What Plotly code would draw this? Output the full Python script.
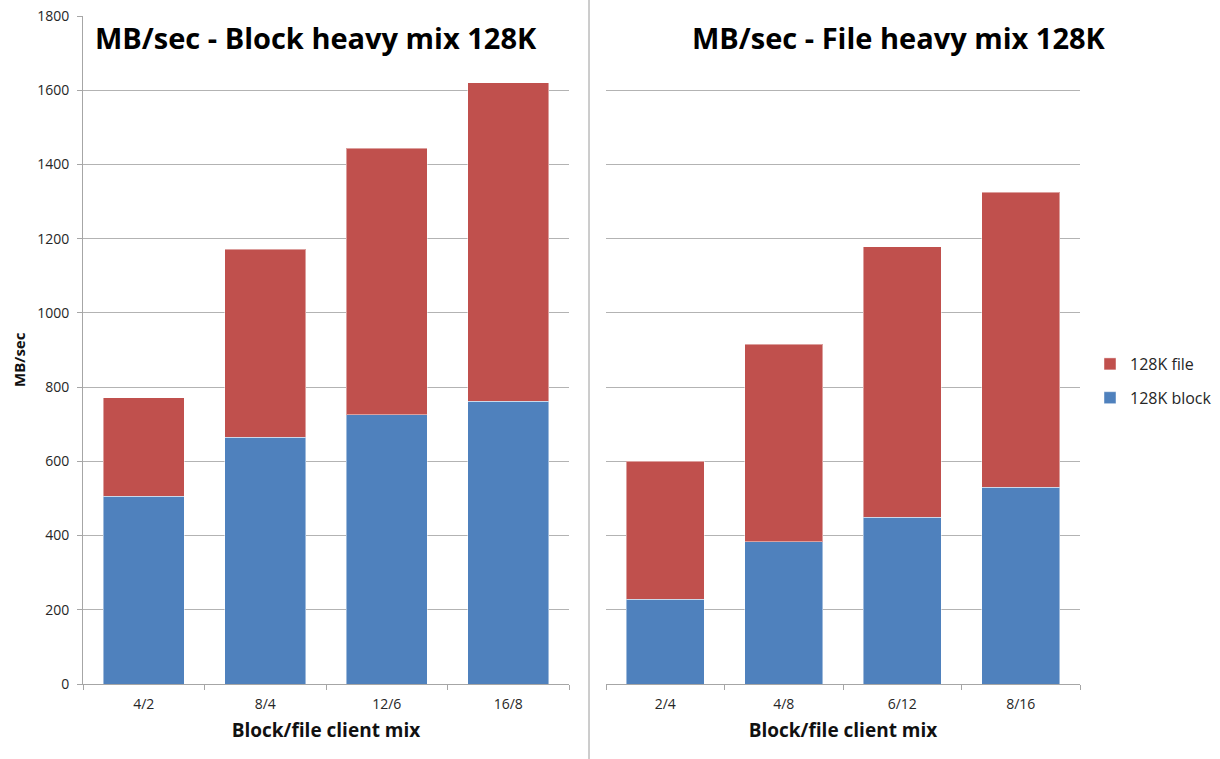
import plotly.graph_objects as go

left_categories = ["4/2", "8/4", "12/6", "16/8"]
left_block = [506, 665, 725, 762]
left_file = [266, 507, 718, 858]

right_categories = ["2/4", "4/8", "6/12", "8/16"]
right_block = [228, 383, 450, 530]
right_file = [372, 532, 728, 795]

y_ticks = [0, 200, 400, 600, 800, 1000, 1200, 1400, 1600, 1800]

BLUE = "#4F81BD"
RED = "#C0504D"
GRID = "#b3b3b3"
TXT = "#262626"
W, H = 1220, 759

fig = go.Figure()
edge = dict(color="rgba(255,255,255,0.45)", width=1)

fig.add_trace(go.Bar(x=left_categories, y=left_block, name="128K block", marker=dict(color=BLUE, line=edge),
                     xaxis="x", yaxis="y", legendgroup="b", legendrank=2, width=0.667))
fig.add_trace(go.Bar(x=left_categories, y=left_file, name="128K file", marker=dict(color=RED, line=edge),
                     xaxis="x", yaxis="y", legendgroup="f", legendrank=1, width=0.667))
fig.add_trace(go.Bar(x=right_categories, y=right_block, name="128K block", marker=dict(color=BLUE, line=edge),
                     xaxis="x2", yaxis="y2", legendgroup="b", legendrank=2, showlegend=False, width=0.66))
fig.add_trace(go.Bar(x=right_categories, y=right_file, name="128K file", marker=dict(color=RED, line=edge),
                     xaxis="x2", yaxis="y2", legendgroup="f", legendrank=1, showlegend=False, width=0.66))

y0 = (H - 684) / H
y1 = (H - 16) / H

tickfont = dict(family="Open Sans, Lato, sans-serif", size=14, color=TXT)
titlefont = dict(family="Open Sans, Lato, sans-serif", size=19, color="#111111")

xcommon = dict(type="category", showline=True, linecolor="#a6a6a6", linewidth=1,
               ticks="outside", tickson="boundaries", ticklen=5, tickcolor="#a6a6a6",
               ticklabelstandoff=7,
               showgrid=False, tickfont=tickfont, fixedrange=True, automargin=False)
ycommon = dict(range=[0, 1800], tickvals=y_ticks, showgrid=True, gridcolor=GRID, gridwidth=1,
               zeroline=False, fixedrange=True, automargin=False)

fig.update_layout(
    width=W, height=H,
    margin=dict(l=0, r=0, t=0, b=0, autoexpand=False),
    paper_bgcolor="white", plot_bgcolor="white",
    barmode="stack",
    xaxis=dict(domain=[83 / W, 569 / W], anchor="y",
               title=dict(text="<b>Block/file client mix</b>", font=titlefont, standoff=11), **xcommon),
    xaxis2=dict(domain=[606 / W, 1080 / W], anchor="y2",
                title=dict(text="<b>Block/file client mix</b>", font=titlefont, standoff=11), **xcommon),
    yaxis=dict(domain=[y0, y1], anchor="x", showline=True, linecolor="#a6a6a6", linewidth=1,
               ticks="outside", ticklen=5, tickcolor="#a6a6a6", tickfont=tickfont,
               ticklabelstandoff=5, **ycommon),
    yaxis2=dict(domain=[y0, y1], anchor="x2", showline=False, showticklabels=False, ticks="", **ycommon),
    legend=dict(x=1090 / W, y=1 - 347 / H, xanchor="left", yanchor="top",
                traceorder="grouped", tracegroupgap=10, itemwidth=30,
                font=dict(family="Open Sans, Lato, sans-serif", size=16, color=TXT),
                bgcolor="rgba(0,0,0,0)"),
    showlegend=True,
    annotations=[
        dict(text="<b>MB/sec - Block heavy mix 128K</b>", x=316 / W, y=1 - 37 / H, xref="paper", yref="paper",
             showarrow=False, xanchor="center", yanchor="middle",
             font=dict(family="Open Sans, Lato, sans-serif", size=29, color="#000000")),
        dict(text="<b>MB/sec - File heavy mix 128K</b>", x=899 / W, y=1 - 37 / H, xref="paper", yref="paper",
             showarrow=False, xanchor="center", yanchor="middle",
             font=dict(family="Open Sans, Lato, sans-serif", size=29, color="#000000")),
        dict(text="<b>MB/sec</b>", x=19 / W, y=1 - 360 / H, xref="paper", yref="paper", textangle=-90,
             showarrow=False, xanchor="center", yanchor="middle",
             font=dict(family="Open Sans, Lato, sans-serif", size=15, color="#111111")),
    ],
    shapes=[
        dict(type="line", xref="paper", yref="paper", x0=589 / W, x1=589 / W, y0=0, y1=1,
             line=dict(color="#9a9a9a", width=1)),
    ],
)

fig.write_html("out.html", config={"displayModeBar": False},
               post_script="document.body.style.margin='0';document.body.style.overflow='hidden';")
